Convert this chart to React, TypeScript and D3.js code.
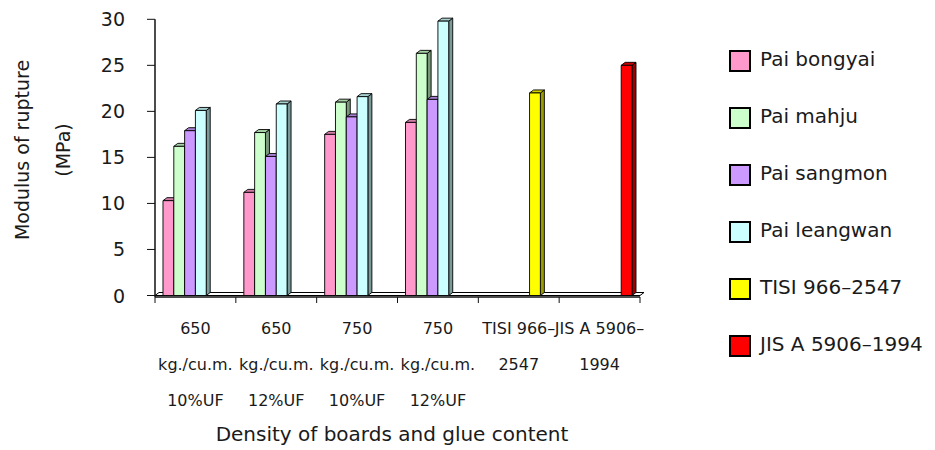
import React from "react";
import * as d3 from "d3";

// Categories (multi-line tick labels)
const categories: string[][] = [
  ["650", "kg./cu.m.", "10%UF"],
  ["650", "kg./cu.m.", "12%UF"],
  ["750", "kg./cu.m.", "10%UF"],
  ["750", "kg./cu.m.", "12%UF"],
  ["TISI 966–", "2547"],
  ["JIS A 5906–", "1994"],
];

// Series names, colours and values (MPa) per category
const seriesNames = [
  "Pai bongyai",
  "Pai mahju",
  "Pai sangmon",
  "Pai leangwan",
  "TISI 966–2547",
  "JIS A 5906–1994",
];
const seriesColors = ["#FF99CC", "#CCFFCC", "#CC99FF", "#CCFFFF", "#FFFF00", "#FF0000"];

const paiBongyai = [10.3, 11.2, 17.5, 18.8, 0, 0];
const paiMahju = [16.2, 17.7, 21.0, 26.3, 0, 0];
const paiSangmon = [17.9, 15.1, 19.4, 21.3, 0, 0];
const paiLeangwan = [20.1, 20.8, 21.6, 29.8, 0, 0];
const tisi = [0, 0, 0, 0, 22, 0];
const jis = [0, 0, 0, 0, 0, 25];
const seriesValues = [paiBongyai, paiMahju, paiSangmon, paiLeangwan, tisi, jis];

const yTicks = [0, 5, 10, 15, 20, 25, 30];

const FONT = "'DejaVu Sans', sans-serif";
const TEXT = "#1a1a1a";

function scaleRgb(c: string, k: number) {
  const r = d3.rgb(c);
  return d3.rgb(r.r * k, r.g * k, r.b * k).formatHex();
}

export default function App() {
  const width = 935;
  const height = 450;
  const left = 155;
  const right = 640;
  const dx = 4;
  const dy = 3;

  const y = d3.scaleLinear().domain([0, 30]).range([295.5, 19.3]);
  const x = d3
    .scaleBand<number>()
    .domain(categories.map((_, i) => i))
    .range([left, right])
    .paddingInner(0)
    .paddingOuter(0);
  const xs = d3
    .scaleBand<number>()
    .domain(seriesNames.map((_, i) => i))
    .range([0, x.bandwidth()])
    .paddingInner(0)
    .paddingOuter(0.74);

  const y0 = y(0);
  const bars: React.ReactNode[] = [];
  categories.forEach((_, ci) => {
    seriesValues.forEach((vals, si) => {
      const v = vals[ci];
      if (!v) return;
      const bx = (x(ci) as number) + (xs(si) as number);
      const bw = xs.bandwidth();
      const yt = y(v);
      const col = seriesColors[si];
      const top = `${bx},${yt} ${bx + dx},${yt - dy} ${bx + bw + dx},${yt - dy} ${bx + bw},${yt}`;
      const side = `${bx + bw},${yt} ${bx + bw + dx},${yt - dy} ${bx + bw + dx},${y0 - dy} ${bx + bw},${y0}`;
      bars.push(
        <g key={`${ci}-${si}`} stroke="#000" strokeWidth={0.9} strokeLinejoin="round">
          <polygon points={side} fill={scaleRgb(col, 0.6)} />
          <polygon points={top} fill={scaleRgb(col, 0.82)} />
          <rect x={bx} y={yt} width={bw} height={y0 - yt} fill={col} />
        </g>
      );
    });
  });

  const floor = `${left},${y0} ${right},${y0} ${right + dx},${y0 - dy} ${left + dx},${y0 - dy}`;

  return (
    <svg width={width} height={height} style={{ position: "absolute", left: 0, top: 0 }} fontFamily={FONT}>
      <rect width={width} height={height} fill="#fff" />

      {/* floor */}
      <polygon points={floor} fill="#fff" stroke="#000" strokeWidth={1} />
      <line x1={left} x2={right} y1={y0 + 1.5} y2={y0 + 1.5} stroke="#111" strokeWidth={1.5} />

      {/* y axis */}
      <line x1={left} x2={left} y1={y(30)} y2={y0 + 1.5} stroke="#111" strokeWidth={1.5} />
      {yTicks.map((t) => (
        <g key={t}>
          <line x1={left - 8} x2={left} y1={y(t)} y2={y(t)} stroke="#111" strokeWidth={1} />
          <text x={125} y={y(t)} textAnchor="end" dominantBaseline="central" fontSize={19} fill={TEXT}>
            {t}
          </text>
        </g>
      ))}

      {/* x ticks */}
      {d3.range(categories.length + 1).map((i) => {
        const tx = left + i * x.step();
        return <line key={i} x1={tx} x2={tx} y1={y0 + 1.5} y2={y0 + 7.5} stroke="#111" strokeWidth={1} />;
      })}

      {bars}

      {/* category labels */}
      {categories.map((lines, ci) =>
        lines.map((ln, li) => (
          <text
            key={`${ci}-${li}`}
            x={(x(ci) as number) + x.bandwidth() / 2}
            y={328 + li * 36}
            textAnchor="middle"
            dominantBaseline="central"
            fontSize={16}
            fill={TEXT}
          >
            {ln}
          </text>
        ))
      )}

      {/* axis titles */}
      <text x={392} y={434} textAnchor="middle" dominantBaseline="central" fontSize={20} fill={TEXT}>
        Density of boards and glue content
      </text>
      <text
        transform="translate(22,150) rotate(-90)"
        textAnchor="middle"
        dominantBaseline="central"
        fontSize={19}
        fill={TEXT}
      >
        Modulus of rupture
      </text>
      <text
        transform="translate(63,150) rotate(-90)"
        textAnchor="middle"
        dominantBaseline="central"
        fontSize={19}
        fill={TEXT}
      >
        (MPa)
      </text>

      {/* legend */}
      {seriesNames.map((name, i) => {
        const ty = 51 + i * 57;
        return (
          <g key={name}>
            <rect x={730} y={ty} width={20} height={20} fill={seriesColors[i]} stroke="#000" strokeWidth={2} />
            <text x={760} y={ty + 14.5} fontSize={20} fill={TEXT}>
              {name}
            </text>
          </g>
        );
      })}
    </svg>
  );
}
